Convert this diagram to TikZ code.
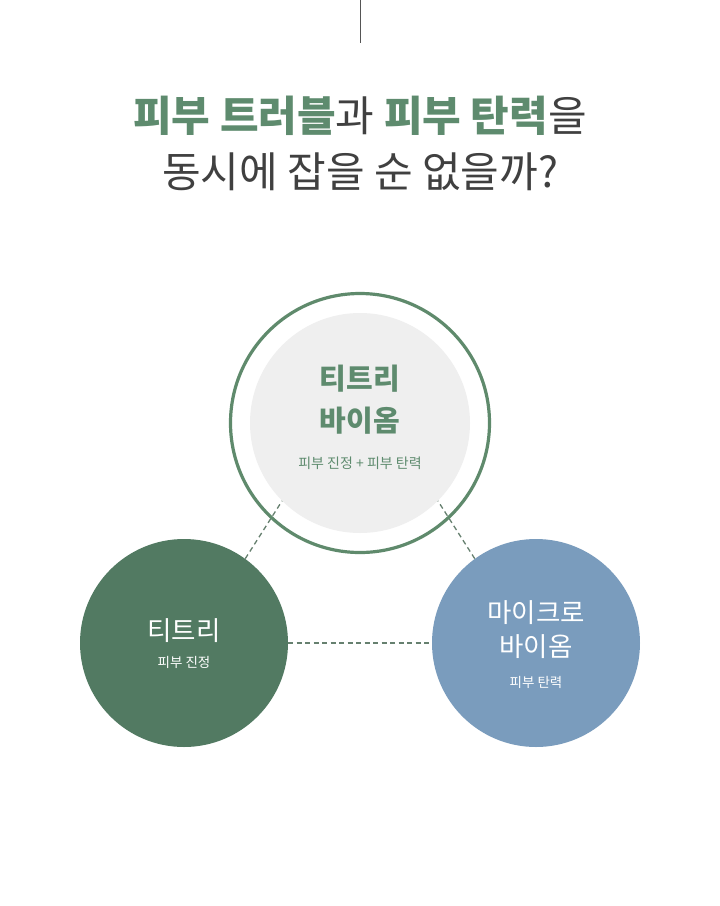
\documentclass[tikz,border=0pt]{standalone}
\usepackage{fontspec}
\setmainfont{Noto Sans CJK KR}
\usetikzlibrary{positioning}
\definecolor{titlegreen}{HTML}{5E8B6E}
\definecolor{titlegray}{HTML}{404040}
\definecolor{ringgreen}{HTML}{5F8A6C}
\definecolor{innergray}{HTML}{EFEFEF}
\definecolor{teagreen}{HTML}{527A62}
\definecolor{microblue}{HTML}{7A9CBD}
\definecolor{dashgray}{HTML}{66806F}
\definecolor{linegray}{HTML}{555555}

\tikzset{
	titletext/.style={font=\fontsize{42}{44}\selectfont, text=titlegray, inner sep=0pt},
	bigname/.style={font=\fontsize{26.5}{34}\selectfont, inner sep=0pt, align=center},
	smallname/.style={font=\fontsize{13.5}{15}\selectfont, inner sep=0pt},
	disc/.style={circle, inner sep=0pt, minimum size=208pt},
	dashline/.style={dashed, dash pattern=on 5pt off 3.5pt, draw=dashgray, line width=1.3pt}
}

\begin{document}
\begin{tikzpicture}[x=1pt, y=-1pt]
	\useasboundingbox[fill=white] (0,0) rectangle (720,906);

	% Line at the top
	\coordinate (linetop) at (360,0);
	\coordinate (linebottom) at (360,43);
	\draw[linegray, line width=1pt] (linetop) -- (linebottom);

	% Title
	\node[titletext] (title1) at (360,116) {\textcolor{titlegreen}{\textbf{피부 트러블}}과 \textcolor{titlegreen}{\textbf{피부 탄력}}을};
	\node[titletext] (title2) at (360,172) {동시에 잡을 순 없을까?};

	% Circles
	\node[circle, fill=innergray, inner sep=0pt, minimum size=220pt] (biome) at (360,423) {};
	\node[circle, draw=ringgreen, line width=3.2pt, inner sep=0pt, minimum size=259pt] (ring) at (360,423) {};
	\node[disc, fill=teagreen] (teatree) at (184,643) {};
	\node[disc, fill=microblue] (micro) at (536,643) {};

	% Dashed links
	\draw[dashline] (teatree.54) -- (biome.225);
	\draw[dashline] (micro.126) -- (biome.315);
	\draw[dashline] (teatree) -- (micro);

	% Texts in the circles
	\node[bigname, text=titlegreen, font=\fontsize{29}{42}\bfseries\selectfont] (biomename) at (360,400) {티트리\\바이옴};
	\node[smallname, text=titlegreen, font=\fontsize{14}{15}\selectfont] (biomesub) at (360,463) {피부 진정 + 피부 탄력};
	\node[bigname, text=white] (teaname) at (184,631) {티트리};
	\node[smallname, text=white] (teasub) at (184,662) {피부 진정};
	\node[bigname, text=white] (microname) at (536,630) {마이크로\\바이옴};
	\node[smallname, text=white] (microsub) at (536,682) {피부 탄력};
\end{tikzpicture}
\end{document}
